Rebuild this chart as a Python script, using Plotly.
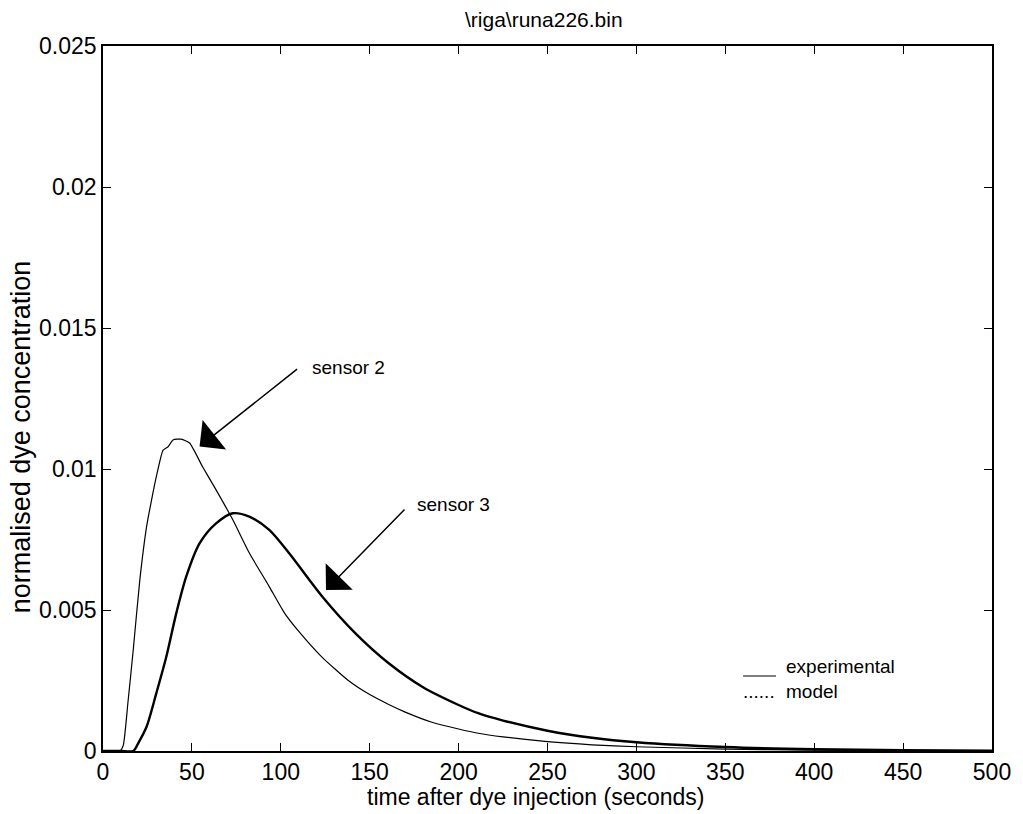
import plotly.graph_objects as go

# sensor 2 - experimental
t_exp = [0, 5, 9.5, 11.4, 14, 17, 20.7, 24.5, 27.3, 30, 33.8, 36.6, 39.4, 44, 48.7, 56, 63.6, 73, 82.3,
         93.5, 102, 110, 123, 138, 150, 160.7, 170, 185, 200, 211, 225, 250, 275, 300, 350, 400, 450, 500]
y_exp = [0, 0, 0, 0.0002, 0.0017, 0.00358, 0.00606, 0.00795, 0.0089, 0.00973, 0.01067, 0.01079, 0.01103,
         0.01106, 0.01092, 0.01008, 0.00926, 0.0082, 0.00702, 0.00583, 0.0049, 0.00425, 0.00334, 0.0025,
         0.002, 0.00165, 0.00138, 0.00102, 0.00078, 0.00063, 0.0005, 0.00033, 0.00022, 0.00015, 0.00007,
         0.00003, 0.00001, 0]

# sensor 3 - model
t_mod = [0, 10, 17, 20, 24.5, 30, 35.6, 41.2, 46.8, 54.3, 63.6, 73, 82.3, 93.5, 104.7, 123.4, 142, 160.7,
         180, 200, 211, 225, 250, 275, 300, 350, 400, 450, 500]
y_mod = [0, 0, 0, 0.0003, 0.00086, 0.00205, 0.00334, 0.00488, 0.00618, 0.00736, 0.00807, 0.00843, 0.00831,
         0.00784, 0.00701, 0.00547, 0.00417, 0.00311, 0.00226, 0.00163, 0.00134, 0.00108, 0.00072, 0.00047,
         0.00031, 0.00014, 0.00006, 0.00003, 0.00001]

y_ticks = [0, 0.005, 0.01, 0.015, 0.02, 0.025]
y_ticklabels = ["0", "0.005", "0.01", "0.015", "0.02", "0.025"]
x_ticks = [0, 50, 100, 150, 200, 250, 300, 350, 400, 450, 500]

FONT = "Liberation Sans, Arial, sans-serif"
L, R, T, B = 103, 996, 46, 751  # plot area in pixels
W, H = 1023, 814


def pxx(p):  # pixel x -> paper x
    return (p - L) / (R - L)


def pxy(p):  # pixel y -> paper y
    return (B - p) / (B - T)


fig = go.Figure()
fig.add_trace(go.Scatter(x=t_exp, y=y_exp, mode="lines",
                         line=dict(color="black", width=1.2, shape="spline", smoothing=0.5),
                         showlegend=False))
fig.add_trace(go.Scatter(x=t_mod, y=y_mod, mode="lines",
                         line=dict(color="black", width=2.4, shape="spline", smoothing=0.8),
                         showlegend=False))

axis_common = dict(showline=True, linecolor="black", linewidth=1.5, mirror="ticks", ticks="inside",
                   ticklen=8, tickcolor="black", tickwidth=1.2, showgrid=False, zeroline=False,
                   tickfont=dict(family=FONT, size=23, color="black"))

fig.update_xaxes(range=[0, 500], tickvals=x_ticks, **axis_common)
fig.update_yaxes(range=[0, 0.025], tickvals=y_ticks, ticktext=y_ticklabels, **axis_common)

fig.update_layout(
    width=W, height=H,
    margin=dict(l=L, r=W - R, t=T, b=H - B),
    paper_bgcolor="white", plot_bgcolor="white",
)

anns = [
    # title
    dict(x=pxx(546), y=pxy(20), xref="paper", yref="paper", text="\\riga\\runa226.bin", showarrow=False,
         xanchor="center", yanchor="middle", font=dict(family=FONT, size=21, color="black")),
    # axis titles
    dict(x=pxx(538), y=pxy(797), xref="paper", yref="paper", text="time after dye injection (seconds)",
         showarrow=False, xanchor="center", yanchor="middle", font=dict(family=FONT, size=23, color="black")),
    dict(x=pxx(21), y=pxy(437), xref="paper", yref="paper", text="normalised dye concentration",
         showarrow=False, textangle=-90, xanchor="center", yanchor="middle",
         font=dict(family=FONT, size=27, color="black")),
    # arrows
    dict(x=pxx(200), y=pxy(446.5), xref="paper", yref="paper", ax=299 - 200, ay=368 - 446.5, text="",
         showarrow=True, arrowhead=1, arrowsize=4.2, arrowwidth=1.5, arrowcolor="black"),
    dict(x=pxx(327), y=pxy(590), xref="paper", yref="paper", ax=407 - 327, ay=508 - 590, text="",
         showarrow=True, arrowhead=1, arrowsize=4.2, arrowwidth=1.5, arrowcolor="black"),
    # labels
    dict(x=pxx(311), y=pxy(367), xref="paper", yref="paper", text="sensor 2", showarrow=False,
         xanchor="left", yanchor="middle", font=dict(family=FONT, size=19, color="black")),
    dict(x=pxx(416), y=pxy(505), xref="paper", yref="paper", text="sensor 3", showarrow=False,
         xanchor="left", yanchor="middle", font=dict(family=FONT, size=19, color="black")),
    # legend
    dict(x=pxx(787), y=pxy(666), xref="paper", yref="paper", text="experimental", showarrow=False,
         xanchor="left", yanchor="middle", font=dict(family=FONT, size=19, color="black")),
    dict(x=pxx(787), y=pxy(691), xref="paper", yref="paper", text="model", showarrow=False,
         xanchor="left", yanchor="middle", font=dict(family=FONT, size=19, color="black")),
    dict(x=pxx(744), y=pxy(691), xref="paper", yref="paper", text="......", showarrow=False,
         xanchor="left", yanchor="middle", font=dict(family=FONT, size=19, color="black")),
]
fig.update_layout(annotations=anns)
fig.add_shape(type="line", x0=pxx(746), x1=pxx(779), y0=pxy(676), y1=pxy(676), xref="paper", yref="paper",
              line=dict(color="black", width=1))

fig.write_html("out.html")
